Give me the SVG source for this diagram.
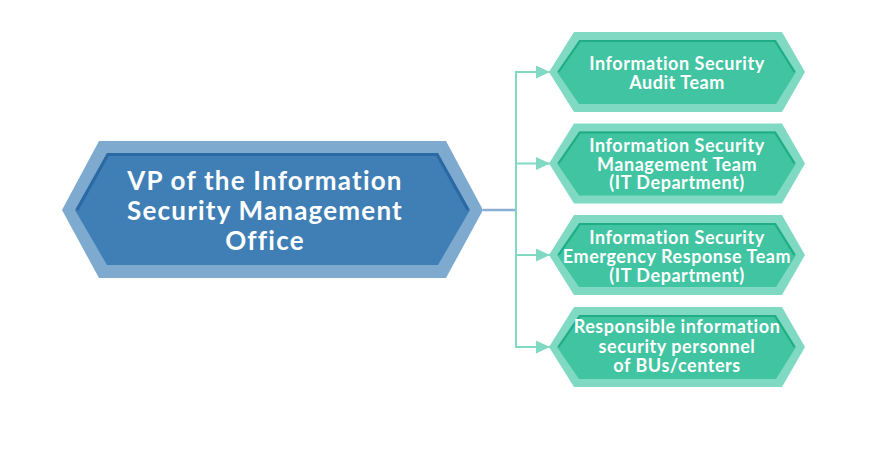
<svg xmlns="http://www.w3.org/2000/svg" width="893" height="451" viewBox="0 0 893 451">
<defs>
<style>
.bo{fill:#7eaad0}.bi{fill:#407fb5}.bs{fill:none;stroke:#2b69a4;stroke-width:3;stroke-linejoin:miter}
.to{fill:#80d9c3}.ti{fill:#41c4a1}.ts{fill:none;stroke:#1fac87;stroke-width:2}
.bt{font-family:Lato,"Liberation Sans",sans-serif;font-weight:bold;font-size:26px;letter-spacing:1.2px;fill:#fff;text-anchor:middle}
.tt{font-family:Lato,"Liberation Sans",sans-serif;font-weight:bold;font-size:18px;letter-spacing:0.55px;fill:#fff;text-anchor:middle}
.cl{fill:none;stroke:#80d9c3;stroke-width:2}
</style>
<marker id="ah" markerWidth="14" markerHeight="13" refX="14" refY="6.5" orient="auto" markerUnits="userSpaceOnUse"><path d="M0,0L14,6.5L0,13Z" fill="#80d9c3"/></marker>
</defs>
<rect width="893" height="451" fill="#fff"/>
<g id="connectors">
<line x1="483" y1="210" x2="516" y2="210" stroke="#8aaed4" stroke-width="2.5"/>
<line class="cl" x1="516" y1="71" x2="516" y2="348"/>
<line class="cl" x1="515" y1="72" x2="550" y2="72" marker-end="url(#ah)"/>
<line class="cl" x1="515" y1="163.5" x2="550" y2="163.5" marker-end="url(#ah)"/>
<line class="cl" x1="515" y1="255" x2="550" y2="255" marker-end="url(#ah)"/>
<line class="cl" x1="515" y1="347" x2="550" y2="347" marker-end="url(#ah)"/>
</g>
<g id="vp">
<polygon class="bo" points="62,210 99,141 446,141 483,210 446,278 99,278"/>
<polygon class="bi" points="75,210 107,153 438,153 470,210 438,265 107,265"/>
<polyline class="bs" points="77,210 108,154.5 437,154.5 468,210"/>
<text class="bt" x="265" y="190">VP of the Information</text>
<text class="bt" x="265" y="220">Security Management</text>
<text class="bt" x="265" y="250">Office</text>
</g>
<g id="audit" transform="translate(0,72)">
<polygon class="to" points="549,0 574,-40 782,-40 805,0 782,40 574,40"/>
<polygon class="ti" points="557,0 579,-32 776,-32 796,0 776,32 579,32"/>
<polyline class="ts" points="558.5,0 580,-31 775,-31 794.5,0"/>
<text class="tt" x="677" y="-2">Information Security</text>
<text class="tt" x="677" y="17">Audit Team</text>
</g>
<g id="mgmt" transform="translate(0,163.5)">
<polygon class="to" points="549,0 574,-40 782,-40 805,0 782,40 574,40"/>
<polygon class="ti" points="557,0 579,-32 776,-32 796,0 776,32 579,32"/>
<polyline class="ts" points="558.5,0 580,-31 775,-31 794.5,0"/>
<text class="tt" x="677" y="-11.5">Information Security</text>
<text class="tt" x="677" y="7">Management Team</text>
<text class="tt" x="677" y="25">(IT Department)</text>
</g>
<g id="emerg" transform="translate(0,255)">
<polygon class="to" points="549,0 574,-40 782,-40 805,0 782,40 574,40"/>
<polygon class="ti" points="557,0 579,-32 776,-32 796,0 776,32 579,32"/>
<polyline class="ts" points="558.5,0 580,-31 775,-31 794.5,0"/>
<text class="tt" x="677" y="-11">Information Security</text>
<text class="tt" x="677" y="8">Emergency Response Team</text>
<text class="tt" x="677" y="27">(IT Department)</text>
</g>
<g id="bu" transform="translate(0,347)">
<polygon class="to" points="549,0 574,-40 782,-40 805,0 782,40 574,40"/>
<polygon class="ti" points="557,0 579,-32 776,-32 796,0 776,32 579,32"/>
<polyline class="ts" points="558.5,0 580,-31 775,-31 794.5,0"/>
<text class="tt" x="677" y="-14">Responsible information</text>
<text class="tt" x="677" y="6">security personnel</text>
<text class="tt" x="677" y="25">of BUs/centers</text>
</g>
</svg>
